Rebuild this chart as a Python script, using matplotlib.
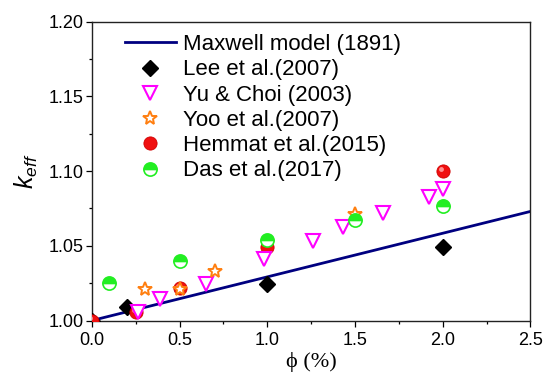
import matplotlib
matplotlib.use("Agg")
import matplotlib.pyplot as plt
import matplotlib.transforms as mtransforms

# ---- data ----
maxwell_phi = [0.0, 2.5]
maxwell_k = [1.0, 1.073]

lee_phi = [0.0, 0.2, 1.0, 2.0]
lee_k = [1.0, 1.009, 1.0245, 1.049]

yu_phi = [0.26, 0.39, 0.65, 0.98, 1.26, 1.43, 1.66, 1.92, 2.0]
yu_k = [1.0055, 1.0145, 1.0245, 1.041, 1.0535, 1.0625, 1.072, 1.083, 1.088]

yoo_phi = [0.30, 0.50, 0.70, 1.50]
yoo_k = [1.021, 1.021, 1.033, 1.071]

hemmat_phi = [0.0, 0.25, 0.50, 1.0, 2.0]
hemmat_k = [1.0, 1.0055, 1.0215, 1.0495, 1.100]

das_phi = [0.10, 0.50, 1.0, 1.50, 2.0]
das_k = [1.025, 1.040, 1.054, 1.067, 1.0765]

x_ticks = [0.0, 0.5, 1.0, 1.5, 2.0, 2.5]
y_ticks = [1.00, 1.05, 1.10, 1.15, 1.20]

plt.rcParams['font.family'] = ['Liberation Sans', 'DejaVu Sans']
plt.rcParams['mathtext.fontset'] = 'custom'
plt.rcParams['mathtext.it'] = 'Liberation Sans:italic'
plt.rcParams['mathtext.rm'] = 'Liberation Sans'

fig = plt.figure(figsize=(5.44, 3.74), dpi=100)
ax = fig.add_axes([0.169, 0.143, 0.806, 0.799])

ax.plot(maxwell_phi, maxwell_k, color='#000080', lw=2.0, zorder=2,
        label='Maxwell model (1891)')
ax.plot(lee_phi, lee_k, ls='none', marker='D', ms=8.5, color='black',
        zorder=3, label='Lee et al.(2007)')
ax.plot(yu_phi, yu_k, ls='none', marker='v', ms=10.5, mfc='white',
        mec='#FF00FF', mew=1.5, zorder=5, label='Yu & Choi (2003)')
ax.plot(yoo_phi, yoo_k, ls='none', marker='*', ms=10.5, mfc='white',
        mec='#FF7F10', mew=1.4, zorder=6, label='Yoo et al.(2007)')
ax.plot(hemmat_phi, hemmat_k, ls='none', marker='o', ms=9.5,
        mfc='#F01010', mec='#D00000', mew=0.6, zorder=4,
        label='Hemmat et al.(2015)')
# highlight on the red spheres
off = mtransforms.ScaledTranslation(-1.2 / 72, 1.5 / 72, fig.dpi_scale_trans)
ax.plot(hemmat_phi, hemmat_k, ls='none', marker='o', ms=3.5,
        mfc='#FF9090', mec='none', zorder=4.1,
        transform=ax.transData + off)
ax.plot(das_phi, das_k, ls='none', marker='o', ms=9.5,
        fillstyle='top', mfc='#22EE22', mfcalt='white',
        mec='#22EE22', mew=1.2, zorder=7, label='Das et al.(2017)')

ax.set_xlim(0, 2.5)
ax.set_ylim(1.0, 1.2)
ax.set_xticks(x_ticks)
ax.set_xticklabels(['%.1f' % v for v in x_ticks])
ax.set_yticks(y_ticks)
ax.set_yticklabels(['%.2f' % v for v in y_ticks])
ax.set_xticks([0.25, 0.75, 1.25, 1.75, 2.25], minor=True)
ax.set_yticks([1.025, 1.075, 1.125, 1.175], minor=True)
ax.tick_params(which='major', direction='out', length=4.2, width=0.9,
               labelsize=13, pad=2, top=False, right=False)
ax.tick_params(axis='x', which='major', pad=4)
ax.tick_params(which='minor', direction='out', length=2.2, width=0.9,
               top=False, right=False)
for s in ax.spines.values():
    s.set_linewidth(1.0)
    s.set_color('#222222')

ax.set_xlabel('\u03d5 (%)', fontsize=16,
              family=['Liberation Serif', 'DejaVu Serif'], labelpad=2)
ax.set_ylabel('$k_{eff}$', fontsize=18, labelpad=6)

handles, labels = ax.get_legend_handles_labels()
leg = ax.legend(handles, labels, loc='upper left',
                bbox_to_anchor=(0.075, 0.958), frameon=False, fontsize=16,
                borderpad=0, borderaxespad=0, handlelength=2.3,
                handletextpad=0.3, labelspacing=0.19, numpoints=1)

fig.savefig('out.png', dpi=100)
